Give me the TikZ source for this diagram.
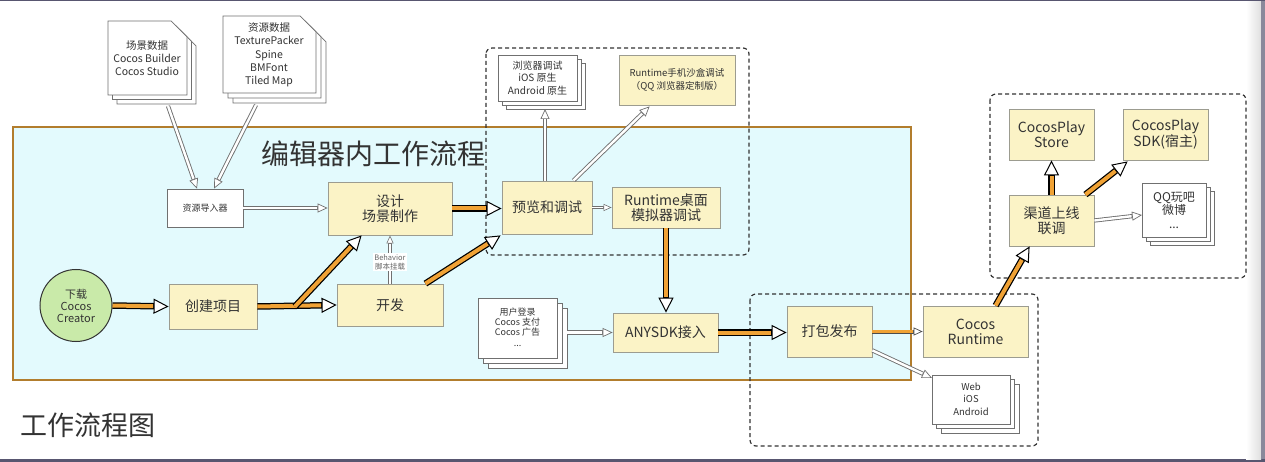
\documentclass[tikz,border=0pt]{standalone}
\usepackage{fontspec}
\setmainfont{Noto Sans CJK SC}
\usetikzlibrary{arrows.meta,calc}
\definecolor{mainfill}{HTML}{E3FAFD}
\definecolor{mainborder}{HTML}{B27D2D}
\definecolor{yfill}{HTML}{FBF3C6}
\definecolor{yborder}{HTML}{9C9C90}
\definecolor{orangeA}{HTML}{F0A235}
\definecolor{greenA}{HTML}{C9EAA9}
\definecolor{txt}{HTML}{333333}
\definecolor{hgray}{HTML}{707070}
\definecolor{framec}{HTML}{585670}
\tikzset{
  mainbox/.style={draw=mainborder, fill=mainfill, line width=2.4pt},
  ybox/.style={draw=yborder, fill=yfill, line width=0.8pt, inner sep=0pt, text=txt, align=center, font=\fontsize{14}{15}\selectfont},
  wbox/.style={draw=hgray, fill=white, line width=0.7pt, inner sep=0pt, text=txt, align=center},
  page/.style={draw=hgray, fill=white, line width=0.7pt},
  doctext/.style={inner sep=0pt, text=txt, align=center},
  dbox/.style={draw=black!80, dashed, dash pattern=on 4pt off 3pt, line width=1.2pt, rounded corners=6pt},
  oarrow/.style={draw=black, line width=6.5pt, -{Triangle[length=15pt,width=15pt,line width=1pt,fill=white]},
     postaction={draw=orangeA, line width=4pt, shorten >=15.5pt, -}},
  tarrow/.style={draw=black!70, line width=4pt, -{Triangle[length=9pt,width=8pt,line width=0.7pt,fill=white]},
     postaction={draw=orangeA, line width=2.2pt, shorten >=9.5pt, -}},
  harrow/.style={draw=hgray, line width=4.2pt, -{Triangle[length=10pt,width=9pt,line width=0.7pt,fill=white]},
     postaction={draw=white, line width=2.4pt, shorten >=10.5pt, -}},
  harrowS/.style={draw=hgray, line width=3.4pt, -{Triangle[length=8pt,width=7pt,line width=0.6pt,fill=white]},
     postaction={draw=white, line width=1.8pt, shorten >=8.5pt, -}},
}
\newcommand\docstack[6]{%
  \foreach \k in {2,1,0}{%
    \begin{scope}[shift={(\k*#5,\k*#5)}]
      \draw[page] (#1,#2) -- ({#3-#6},#2) -- (#3,{#2+#6}) -- (#3,#4) -- (#1,#4) -- cycle;
    \end{scope}}}
\newcommand\pagestack[5]{%
  \foreach \k in {2,1,0}{%
    \draw[page] ({#1+\k*#5},{#2+\k*#5}) rectangle ({#3+\k*#5},{#4+\k*#5});}}
\begin{document}
\begin{tikzpicture}[x=1pt,y=-1pt]
\useasboundingbox (0,0) rectangle (1265,462);
\fill[white] (0,0) rectangle (1265,462);
% screenshot frame
\fill[framec] (0,0) rectangle (1265,1.5);
\fill[framec] (0,459) rectangle (1265,462);
\shade[left color=white, right color=gray!25] (1246,1.5) rectangle (1261,459);
\fill[framec!70] (1261,1.5) rectangle (1265,459);

% main area
\draw[mainbox] (13,127) rectangle (911,380);
\node[anchor=west, inner sep=0pt, font=\fontsize{28}{30}\selectfont, text=txt] (title) at (261,154) {编辑器内工作流程};
\node[anchor=west, inner sep=0pt, font=\fontsize{27}{30}\selectfont, text=txt] (figtitle) at (20,425) {工作流程图};

% top document stacks
\docstack{108}{21}{187}{95}{4.5}{16}
\node[doctext, font=\fontsize{10.5}{13}\selectfont] (docA) at (147,58) {场景数据\\Cocos Builder\\Cocos Studio};
\docstack{223}{16}{316}{93}{5}{16}
\node[doctext, font=\fontsize{10.5}{13.3}\selectfont] (docB) at (269,55) {资源数据\\TexturePacker\\Spine\\BMFont\\Tiled Map};

% editor nodes
\node[wbox, minimum width=76pt, minimum height=38pt, font=\fontsize{9}{11}\selectfont] (importer) at (205,208) {资源导入器};
\node[ybox, minimum width=124pt, minimum height=53pt] (design) at (390,208.5) {设计\\场景制作};
\node[ybox, minimum width=90pt, minimum height=53pt] (preview) at (547,207.5) {预览和调试};
\node[ybox, minimum width=108pt, minimum height=41pt] (rtdesk) at (666,207.5) {Runtime桌面\\模拟器调试};
\node[circle, draw=black!80, fill=greenA, line width=1pt, minimum size=72pt, inner sep=0pt, align=center, text=txt, font=\fontsize{11}{12}\selectfont] (download) at (76,305.5) {下载\\Cocos\\Creator};
\node[ybox, minimum width=88pt, minimum height=45pt] (create) at (213,306.5) {创建项目};
\node[ybox, minimum width=106pt, minimum height=42pt] (kaifa) at (390,305) {开发};
\node[ybox, minimum width=105pt, minimum height=39pt] (anysdk) at (665.5,332.5) {ANYSDK接入};

% user stack
\pagestack{478}{298}{557}{358}{5}
\node[doctext, font=\fontsize{9}{10.3}\selectfont] (userdoc) at (517.5,327) {用户登录\\Cocos 支付\\Cocos 广告\\...};

% dashed group 1
\draw[dbox] (486,48) rectangle (749,255);
\pagestack{498}{55}{577}{101}{4}
\node[doctext, font=\fontsize{10}{12.5}\selectfont] (browser) at (537.5,78) {浏览器调试\\iOS 原生\\Android 原生};
\node[ybox, minimum width=116pt, minimum height=50pt, font=\fontsize{9.5}{13}\selectfont] (rtphone) at (677,80) {Runtime手机沙盒调试\\（QQ 浏览器定制版）};

% dashed group 2
\draw[dbox] (750,294) rectangle (1038,446);
\node[ybox, minimum width=85pt, minimum height=51pt] (pack) at (829.5,331.5) {打包发布};
\node[ybox, minimum width=105pt, minimum height=51pt] (cocosrt) at (975.5,331.5) {Cocos\\Runtime};
\pagestack{932}{375}{1010}{424}{4.5}
\node[doctext, font=\fontsize{9.5}{12.3}\selectfont] (webdoc) at (971,399) {Web\\iOS\\Android};

% dashed group 3
\draw[dbox] (990,94) rectangle (1246,278);
\node[ybox, minimum width=85pt, minimum height=51pt] (channel) at (1051.5,220.5) {渠道上线\\联调};
\node[ybox, minimum width=85pt, minimum height=51pt] (store) at (1051.5,134.5) {CocosPlay\\Store};
\node[ybox, minimum width=85pt, minimum height=51pt] (sdk) at (1165.5,134.5) {CocosPlay\\SDK(宿主)};
\pagestack{1142}{183}{1206}{237}{4.3}
\node[doctext, font=\fontsize{12}{13.5}\selectfont] (qqdoc) at (1174,210) {QQ玩吧\\微博\\...};

% coordinates for free ends
\coordinate (docAout) at (168,106);
\coordinate (docBout) at (256,105);
\coordinate (browserin) at (545,109);
\coordinate (branch) at (295,306.5);
\coordinate (userout) at (567,332.5);
\coordinate (webin) at (932,378);
\coordinate (qqin) at (1142,215);

% hollow arrows
\draw[harrow] (docAout) -- ($(importer.north)+(-8,0)$);
\draw[harrow] (docBout) -- ($(importer.north)+(9,0)$);
\draw[harrow] (importer.east) -- (importer.east -| design.west);
\draw[harrow] ($(preview.north)+(-2,0)$) -- (browserin);
\draw[harrow] ($(preview.north east)+(-19,0)$) -- ($(rtphone.south west)+(31,1)$);
\draw[harrowS] (preview.east) -- (rtdesk.west);
\draw[harrow] (userout) -- (anysdk.west);
\draw[harrow] ($(pack.south east)+(0,-7)$) -- (webin);
\draw[harrow] (channel.east) -- (qqin);
\draw[harrowS] (kaifa.north) -- (design.south);
\node[fill=white, inner sep=1.2pt, align=center, text=black!60, font=\fontsize{7.5}{9}\selectfont] (beh) at (390,262) {Behavior\\脚本挂载};

% orange arrows
\draw[oarrow] (download.east) -- (create.west);
\draw[oarrow] (create.east) -- (kaifa.west);
\draw[oarrow] (branch) -- ($(design.south west)+(34,0)$);
\draw[oarrow] (design.east) -- (design.east -| preview.west);
\draw[oarrow] ($(kaifa.north east)+(-18,0)$) -- ($(preview.south west)+(-1,1)$);
\draw[oarrow] (rtdesk.south) -- (rtdesk.south |- anysdk.north);
\draw[oarrow] (anysdk.east) -- (anysdk.east -| pack.west);
\draw[tarrow] (pack.east) -- (pack.east -| cocosrt.west);
\draw[oarrow] ($(cocosrt.north west)+(73,0)$) -- ($(channel.south west)+(21,0)$);
\draw[oarrow] (channel.north) -- (store.south);
\draw[oarrow] ($(channel.north east)+(-9,0)$) -- ($(sdk.south west)+(5,1)$);
\end{tikzpicture}
\end{document}
